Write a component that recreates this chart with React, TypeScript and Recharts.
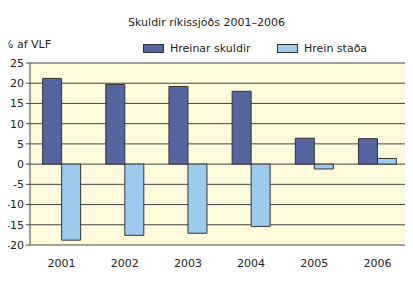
import { BarChart, Bar, XAxis, YAxis, CartesianGrid } from 'recharts';

const years = ['2001', '2002', '2003', '2004', '2005', '2006'];
const hreinarSkuldir = [21.2, 19.7, 19.2, 18.0, 6.4, 6.3];
const hreinStada = [-18.8, -17.6, -17.1, -15.4, -1.2, 1.4];
const yTicks = [-20, -15, -10, -5, 0, 5, 10, 15, 20, 25];

const data = years.map((year, i) => ({
  year,
  skuldir: hreinarSkuldir[i],
  stada: hreinStada[i],
}));

const FONT = 'DejaVu Sans, Verdana, sans-serif';
const DARK = '#5565a1';
const LIGHT = '#99ccee';

function LegendItem({ color, label, left }: { color: string; label: string; left: number }) {
  return (
    <div style={{ position: 'absolute', left, top: 42, display: 'flex', alignItems: 'center' }}>
      <span style={{ width: 19, height: 7, background: color, border: '1px solid #333', marginRight: 6 }} />
      <span style={{ fontSize: 11, color: '#222' }}>{label}</span>
    </div>
  );
}

export default function App() {
  return (
    <div style={{ margin: -8, position: 'relative', width: 413, height: 281, background: '#fff', fontFamily: FONT }}>
      <div style={{ position: 'absolute', left: 0, width: 413, top: 16, textAlign: 'center', fontSize: 11, color: '#222' }}>
        Skuldir ríkissjóðs 2001–2006
      </div>
      <div style={{ position: 'absolute', left: 3, top: 38, fontSize: 11, color: '#222' }}>% af VLF</div>
      <LegendItem color={DARK} label="Hreinar skuldir" left={143} />
      <LegendItem color={LIGHT} label="Hrein staða" left={277} />
      <BarChart
        width={413}
        height={281}
        data={data}
        margin={{ top: 63, right: 4, bottom: 16, left: 0 }}
        barGap={0}
        barCategoryGap="20%"
      >
        <CartesianGrid vertical={false} stroke="#444" fill="#fefbdc" />
        <XAxis
          dataKey="year"
          tickLine={false}
          axisLine={false}
          tick={{ fontSize: 11, fill: '#222', fontFamily: FONT }}
          tickMargin={8}
          height={20}
        />
        <YAxis
          domain={[-20, 25]}
          ticks={yTicks}
          interval={0}
          width={30}
          stroke="#444"
          tickSize={4}
          tick={{ fontSize: 11, fill: '#222', fontFamily: FONT }}
          tickMargin={2}
        />
        <YAxis yAxisId="r" orientation="right" width={0} tick={false} tickLine={false} stroke="#444" />
        <Bar dataKey="skuldir" fill={DARK} stroke="#333" strokeWidth={1} isAnimationActive={false} />
        <Bar dataKey="stada" fill={LIGHT} stroke="#333" strokeWidth={1} isAnimationActive={false} />
      </BarChart>
    </div>
  );
}
